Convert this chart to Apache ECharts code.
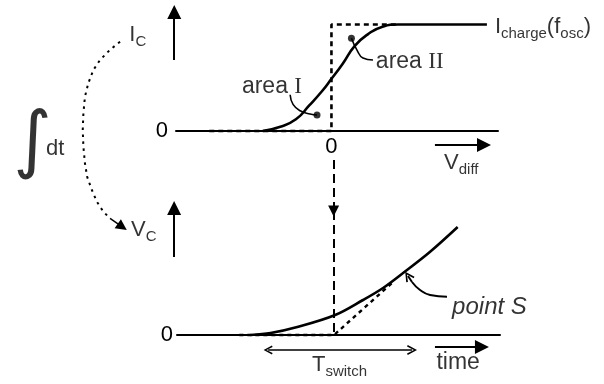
<!DOCTYPE html>
<html>
<head>
<meta charset="utf-8">
<script src="https://cdn.jsdelivr.net/npm/echarts@6/dist/echarts.min.js"></script>
<style>
  html, body { margin: 0; padding: 0; background: #fff; }
  #chart { width: 604px; height: 384px; }
</style>
</head>
<body>
<div id="chart"></div>
<script>
// Upper panel: charge current versus differential voltage
const vdiff = [-3.1, -2.3, -1.6, -1.0, -0.4, 0, 0.5, 1.05, 1.65, 2.3, 3.0, 7.0];
const chargeCurrent = [0, 0.04, 0.11, 0.24, 0.38, 0.49, 0.63, 0.8, 0.91, 0.98, 1, 1];
// Ideal abrupt switching characteristic
const idealVdiff = [-5.5, 0, 0, 3.0];
const idealCurrent = [0, 0, 1, 1];

// Lower panel: capacitor voltage over time
const time = [-3.7, -2.8, -1.6, 0.1, 1.35, 2.25, 3.15, 4.35, 5.6];
const capVoltage = [0, 0.02, 0.08, 0.2, 0.35, 0.47, 0.62, 0.83, 1.08];
// Ramp that an abrupt switch would give
const idealTime = [-4.2, 0.05, 2.7];
const idealVoltage = [0, 0, 0.53];

const zeroTicks = [0];

const pairs = (xs, ys) => xs.map((x, i) => [x, ys[i]]);

const FONT = '"Liberation Sans", Arial, sans-serif';
const INK = '#000';

// panel geometry (pixel position of the zero line and size of one unit)
const upper = { zeroY: 131, unit: 106.5, yMax: 1.2, left: 176, right: 498, xMin: -7, xMax: 7.5 };
const lower = { zeroY: 335, unit: 100, yMax: 1.3, left: 177, right: 500, xMin: -7, xMax: 7.5 };
const gridOf = p => ({
  left: p.left,
  width: p.right - p.left,
  top: p.zeroY - p.yMax * p.unit,
  height: p.yMax * p.unit,
  containLabel: false
});

const rich = {
  m: { fontSize: 22, fontFamily: FONT, color: INK },
  s: { fontSize: 15, fontFamily: FONT, color: INK, padding: [14, 0, 0, 0] },
  a: { fontSize: 23, fontFamily: FONT, color: INK },
  r: { fontSize: 23, fontFamily: '"Liberation Serif", serif', color: INK },
  it: { fontSize: 24, fontFamily: FONT, fontStyle: 'italic', color: INK },
  big: { fontSize: 74, fontFamily: '"DejaVu Sans", sans-serif', fontStyle: 'italic', color: INK }
};

const txt = (x, y, formatter, align) => ({
  value: [x, y],
  label: { formatter, align: align || 'left' }
});

const CHEVRON = 'path://M0,10 L5,0 L10,10 L8.4,10.8 L5,3.4 L1.6,10.8 Z';

const on = (g) => ({ xAxisIndex: g, yAxisIndex: g, clip: false, silent: true, animation: false });

const solid = (w) => ({ color: INK, width: w, type: 'solid', opacity: 1 });

const option = {
  backgroundColor: '#fff',
  animation: false,
  grid: [gridOf(upper), gridOf(lower)],
  xAxis: [upper, lower].map((p, i) => ({
    type: 'value', gridIndex: i, min: p.xMin, max: p.xMax,
    axisLine: { show: true, lineStyle: { color: INK, width: 2 } },
    axisTick: { show: false },
    splitLine: { show: false },
    axisLabel: i === 0
      ? { show: true, customValues: zeroTicks, margin: 5, fontSize: 22, fontFamily: FONT, color: INK }
      : { show: false }
  })),
  yAxis: [upper, lower].map((p, i) => ({
    type: 'value', gridIndex: i, min: 0, max: p.yMax,
    axisLine: { show: false },
    axisTick: { show: false },
    splitLine: { show: false },
    axisLabel: { show: true, customValues: zeroTicks, margin: i === 0 ? 8 : 4, fontSize: 22, fontFamily: FONT, color: INK }
  })),
  series: [
    // ---------- upper panel ----------
    Object.assign({
      type: 'line', data: pairs(idealVdiff, idealCurrent), showSymbol: false, symbol: 'none',
      lineStyle: { color: INK, width: 2.6, type: [5, 4] }
    }, on(0)),
    Object.assign({
      type: 'line', data: pairs(vdiff, chargeCurrent), showSymbol: false, symbol: 'none',
      smooth: 0.5,
      lineStyle: { color: INK, width: 2.6 }
    }, on(0)),
    // leader lines to the area markers
    Object.assign({
      type: 'line', data: [[-1.86, 0.34], [-1.73, 0.25], [-1.41, 0.19], [-0.96, 0.16], [-0.65, 0.15]],
      showSymbol: false, symbol: 'none', smooth: true, lineStyle: { color: INK, width: 1.6 }
    }, on(0)),
    Object.assign({
      type: 'line', data: [[0.9, 0.87], [1.15, 0.76], [1.42, 0.685], [1.87, 0.667]],
      showSymbol: false, symbol: 'none', smooth: true, lineStyle: { color: INK, width: 1.6 }
    }, on(0)),
    Object.assign({
      type: 'scatter', data: [[-0.65, 0.15], [0.9, 0.87]], symbol: 'circle', symbolSize: 7,
      itemStyle: { color: INK }
    }, on(0)),
    // integration arc from current to voltage
    Object.assign({
      type: 'lines', coordinateSystem: 'cartesian2d', polyline: true, symbol: 'none',
      lineStyle: { color: INK, width: 2, type: [2.5, 4.5], opacity: 1 },
      data: [{ coords: [
        [-9.52, 0.838], [-9.97, 0.763], [-10.42, 0.667], [-10.72, 0.573], [-10.95, 0.448],
        [-11.1, 0.322], [-11.17, 0.166], [-11.2, 0.009], [-11.17, -0.147], [-11.1, -0.303],
        [-11.0, -0.43], [-10.79, -0.554], [-10.56, -0.665], [-10.27, -0.758], [-9.97, -0.82]
      ] }]
    }, on(0)),
    Object.assign({
      type: 'lines', coordinateSystem: 'cartesian2d',
      symbol: ['none', 'triangle'], symbolSize: [9, 11],
      lineStyle: solid(1.5),
      data: [{ coords: [[-9.97, -0.82], [-9.42, -0.9]] }]
    }, on(0)),
    // axis arrows
    Object.assign({
      type: 'lines', coordinateSystem: 'cartesian2d',
      symbol: ['none', 'triangle'], symbolSize: [10, 14],
      lineStyle: solid(2),
      data: [
        { coords: [[-7.08, 0.667], [-7.08, 1.117]] },
        { coords: [[4.66, -0.131], [6.87, -0.131]] }
      ]
    }, on(0)),
    Object.assign({
      type: 'scatter', symbolSize: 0,
      label: { show: true, position: [0, 0], verticalAlign: 'middle', rich },
      data: [
        txt(-9.1, 0.9, '{m|I}{s|C}'),
        txt(-2.68, 0.413, '{a|area }{r|I}', 'center'),
        txt(2.0, 0.648, '{a|area }{r|II}'),
        txt(7.36, 0.976, '{m|I}{s|charge}{m|(f}{s|osc}{m|)}'),
        txt(5.07, -0.3, '{m|V}{s|diff}'),
        txt(-13.45, -0.13, '{big|∫}', 'center'),
        txt(-12.85, -0.165, '{m|dt}')
      ]
    }, on(0)),

    // ---------- lower panel ----------
    Object.assign({
      type: 'line', data: pairs(idealTime, idealVoltage), showSymbol: false, symbol: 'none',
      lineStyle: { color: INK, width: 2.4, type: [4, 4] }
    }, on(1)),
    Object.assign({
      type: 'line', data: pairs(time, capVoltage), showSymbol: false, symbol: 'none', smooth: 0.35,
      lineStyle: { color: INK, width: 2.6 }
    }, on(1)),
    // switching instant carried down from the upper panel
    Object.assign({
      type: 'lines', coordinateSystem: 'cartesian2d',
      symbol: ['none', 'triangle'], symbolSize: [9, 11],
      lineStyle: { color: INK, width: 2, type: [9, 5], opacity: 1 },
      data: [{ coords: [[0.03, 1.75], [0.03, 1.24]] }]
    }, on(1)),
    Object.assign({
      type: 'lines', coordinateSystem: 'cartesian2d', symbol: 'none',
      lineStyle: { color: INK, width: 2, type: [9, 5], opacity: 1 },
      data: [{ coords: [[0.03, 1.24], [0.03, 0]] }]
    }, on(1)),
    Object.assign({
      type: 'lines', coordinateSystem: 'cartesian2d',
      symbol: ['none', 'triangle'], symbolSize: [10, 14],
      lineStyle: solid(2),
      data: [
        { coords: [[-7.13, 0.78], [-7.13, 1.27]] },
        { coords: [[4.58, -0.12], [6.69, -0.12]] }
      ]
    }, on(1)),
    Object.assign({
      type: 'lines', coordinateSystem: 'cartesian2d',
      symbol: [CHEVRON, CHEVRON], symbolSize: [9, 10],
      lineStyle: solid(1.5),
      data: [{ coords: [[-2.91, -0.15], [3.55, -0.15]] }]
    }, on(1)),
    // pointer to point S
    Object.assign({
      type: 'line', smooth: true, showSymbol: false, symbol: 'none',
      data: [[5.12, 0.383], [4.36, 0.4], [3.91, 0.45], [3.55, 0.53]],
      lineStyle: { color: INK, width: 2 }
    }, on(1)),
    Object.assign({
      type: 'lines', coordinateSystem: 'cartesian2d',
      symbol: ['none', CHEVRON], symbolSize: [10, 10],
      lineStyle: solid(2),
      data: [{ coords: [[3.55, 0.53], [3.37, 0.59]] }]
    }, on(1)),
    Object.assign({
      type: 'scatter', symbolSize: 0,
      label: { show: true, position: [0, 0], verticalAlign: 'middle', rich },
      data: [
        txt(-9.06, 1.05, '{m|V}{s|C}'),
        txt(-0.94, -0.3, '{m|T}{s|switch}'),
        txt(5.62, -0.28, '{a|time}', 'center'),
        txt(5.35, 0.28, '{it|point S}')
      ]
    }, on(1))
  ]
};

echarts.init(document.getElementById('chart'), null, { renderer: 'canvas' }).setOption(option);
</script>
</body>
</html>
